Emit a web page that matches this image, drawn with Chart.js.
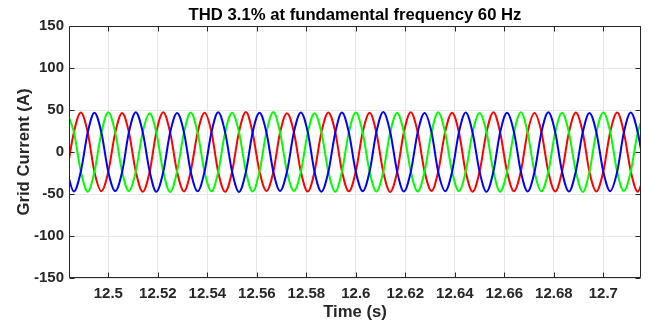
<!DOCTYPE html>
<html>
<head>
<meta charset="utf-8">
<script src="https://cdn.jsdelivr.net/npm/chart.js@4.4.1/dist/chart.umd.min.js"></script>
<style>
  html, body { margin: 0; padding: 0; background: #fff; }
  #wrap { width: 654px; height: 324px; position: relative; }
</style>
</head>
<body>
<div id="wrap"><canvas id="thd-chart"></canvas></div>
<script>
// Chart text
const titleText = 'THD 3.1% at fundamental frequency 60 Hz';
const xTitle = 'Time (s)';
const yTitle = 'Grid Current (A)';

// Tick labels
const xTicks = [12.5, 12.52, 12.54, 12.56, 12.58, 12.6, 12.62, 12.64, 12.66, 12.68, 12.7];
const yTicks = [-150, -100, -50, 0, 50, 100, 150];

// Sample times (s), read at every 60 degrees of the 60 Hz wave
const time = [
  12.4833, 12.4861, 12.4889, 12.4917, 12.4944, 12.4972,
  12.5000, 12.5028, 12.5056, 12.5083, 12.5111, 12.5139,
  12.5167, 12.5194, 12.5222, 12.5250, 12.5278, 12.5306,
  12.5333, 12.5361, 12.5389, 12.5417, 12.5444, 12.5472,
  12.5500, 12.5528, 12.5556, 12.5583, 12.5611, 12.5639,
  12.5667, 12.5694, 12.5722, 12.5750, 12.5778, 12.5806,
  12.5833, 12.5861, 12.5889, 12.5917, 12.5944, 12.5972,
  12.6000, 12.6028, 12.6056, 12.6083, 12.6111, 12.6139,
  12.6167, 12.6194, 12.6222, 12.6250, 12.6278, 12.6306,
  12.6333, 12.6361, 12.6389, 12.6417, 12.6444, 12.6472,
  12.6500, 12.6528, 12.6556, 12.6583, 12.6611, 12.6639,
  12.6667, 12.6694, 12.6722, 12.6750, 12.6778, 12.6806,
  12.6833, 12.6861, 12.6889, 12.6917, 12.6944, 12.6972,
  12.7000, 12.7028, 12.7056, 12.7083, 12.7111, 12.7139,
  12.7167
];

// Phase currents (A)
const phaseA = [
  -23.1, 23.5, 47.0, 23.2, -23.7, -46.6,
  -23.4, 23.0, 46.4, 23.8, -23.1, -47.3,
  -23.8, 23.6, 47.3, 23.1, -23.5, -46.9,
  -23.0, 23.3, 46.7, 23.6, -23.9, -47.4,
  -23.6, 23.8, 47.5, 23.0, -23.2, -46.5,
  -23.2, 23.1, 46.2, 23.5, -23.6, -47.1,
  -23.7, 23.4, 47.1, 23.9, -23.0, -46.8,
  -23.3, 23.7, 46.6, 23.3, -23.8, -47.5,
  -23.9, 23.2, 47.2, 23.7, -23.3, -46.4,
  -23.1, 23.9, 46.8, 23.0, -23.6, -47.2,
  -23.5, 23.3, 47.4, 23.4, -23.1, -46.7,
  -23.0, 23.6, 46.3, 23.8, -23.7, -47.0,
  -23.7, 23.1, 47.0, 23.2, -23.4, -46.9,
  -23.2, 23.8, 46.9, 23.6, -23.0, -47.3,
  -23.5
];
const phaseB = [
  46.5, 23.8, -23.1, -47.2, -23.6, 23.0,
  47.3, 23.2, -23.9, -46.4, -23.3, 23.7,
  46.1, 23.5, -23.4, -47.6, -22.9, 23.4,
  47.0, 22.8, -23.7, -46.8, -23.8, 23.1,
  46.7, 23.9, -23.0, -47.1, -23.2, 23.8,
  47.5, 23.3, -23.6, -46.3, -23.5, 22.9,
  46.2, 23.6, -23.3, -47.4, -23.1, 23.5,
  47.1, 23.0, -23.8, -46.9, -23.7, 23.2,
  46.8, 23.7, -22.9, -47.0, -23.4, 23.6,
  47.4, 23.1, -23.5, -46.6, -23.0, 23.3,
  46.4, 23.8, -23.2, -47.3, -23.9, 23.0,
  47.2, 23.4, -23.7, -46.7, -23.3, 23.7,
  46.6, 23.2, -23.1, -47.5, -23.6, 23.4,
  47.0, 23.9, -23.4, -46.5, -23.2, 23.1,
  46.9
];
const phaseC = [
  -23.4, -47.1, -23.2, 23.6, 46.8, 23.3,
  -23.7, -46.5, -23.5, 23.1, 47.4, 23.8,
  -23.0, -47.3, -23.8, 23.4, 46.3, 23.0,
  -23.5, -46.8, -23.1, 23.7, 47.2, 23.5,
  -23.2, -47.5, -23.6, 23.2, 46.6, 23.2,
  -23.8, -46.4, -23.3, 23.8, 47.0, 23.6,
  -23.1, -47.2, -23.9, 23.0, 46.9, 23.1,
  -23.6, -46.7, -23.0, 23.5, 47.5, 23.7,
  -23.3, -47.0, -23.7, 23.3, 46.4, 23.4,
  -23.9, -46.6, -23.4, 23.9, 47.1, 23.0,
  -23.2, -47.4, -23.2, 23.1, 46.7, 23.8,
  -23.6, -46.9, -23.8, 23.6, 47.3, 23.3,
  -23.0, -47.1, -23.1, 23.4, 46.5, 23.5,
  -23.5, -46.6, -23.6, 23.2, 47.0, 23.6,
  -23.3
];

const ink = '#262626';
const font = '"Liberation Sans", Arial, sans-serif';
Chart.defaults.font.family = font;
Chart.defaults.color = ink;

const toPoints = vals => time.map((t, i) => ({ x: t, y: vals[i] }));

// MATLAB-style box, inward ticks and title
const axesBox = {
  id: 'axesBox',
  afterDatasetsDraw(chart) {
    const { ctx, chartArea: a, scales: { x, y } } = chart;
    const L = Math.round(a.left) + 0.5, R = Math.round(a.right) - 0.5;
    const T = Math.round(a.top) + 0.5, B = Math.round(a.bottom) - 0.5;
    ctx.save();
    ctx.strokeStyle = ink;
    ctx.lineWidth = 1;
    ctx.beginPath();
    ctx.rect(L, T, R - L, B - T);
    xTicks.forEach(v => {
      const px = Math.round(x.getPixelForValue(v)) + 0.5;
      ctx.moveTo(px, B); ctx.lineTo(px, B - 5);
      ctx.moveTo(px, T); ctx.lineTo(px, T + 5);
    });
    yTicks.forEach(v => {
      const py = Math.round(y.getPixelForValue(v)) + 0.5;
      ctx.moveTo(L, py); ctx.lineTo(L + 5, py);
      ctx.moveTo(R, py); ctx.lineTo(R - 5, py);
    });
    ctx.stroke();

    ctx.fillStyle = '#000';
    ctx.font = 'bold 16.7px ' + font;
    ctx.textAlign = 'center';
    ctx.textBaseline = 'middle';
    ctx.fillText(titleText, (a.left + a.right) / 2, 15);
    ctx.restore();
  }
};

const line = (label, vals, color, order) => ({
  label,
  data: toPoints(vals),
  borderColor: color,
  borderWidth: 2,
  pointRadius: 0,
  fill: false,
  cubicInterpolationMode: 'monotone',
  order,
});

new Chart(document.getElementById('thd-chart'), {
  type: 'line',
  data: {
    datasets: [
      line('Phase A', phaseA, '#ff0000', 3),
      line('Phase B', phaseB, '#00ff00', 2),
      line('Phase C', phaseC, '#0000ff', 1),
    ]
  },
  options: {
    responsive: true,
    maintainAspectRatio: false,
    devicePixelRatio: 1,
    animation: false,
    layout: { padding: { left: 0, right: 13, top: 26, bottom: 0 } },
    plugins: {
      legend: { display: false },
      tooltip: { enabled: false },
    },
    scales: {
      x: {
        type: 'linear',
        min: 12.48412,
        max: 12.71523,
        afterBuildTicks: s => { s.ticks = xTicks.map(v => ({ value: v })); },
        afterFit: s => { s.height = 46; },
        grid: { color: '#e6e6e6', drawTicks: false },
        border: { display: false },
        ticks: {
          padding: 7,
          color: ink,
          font: { size: 15, weight: 'bold' },
          callback: v => String(Number(v.toFixed(2))),
        },
        title: {
          display: true,
          text: xTitle,
          color: ink,
          font: { size: 16.7, weight: 'bold' },
          padding: { top: 0, bottom: 2 },
        }
      },
      y: {
        min: -150,
        max: 150,
        afterBuildTicks: s => { s.ticks = yTicks.map(v => ({ value: v })); },
        afterFit: s => { s.width = 69; },
        grid: { color: '#e6e6e6', drawTicks: false },
        border: { display: false },
        ticks: {
          padding: 5,
          color: ink,
          font: { size: 15, weight: 'bold' },
        },
        title: {
          display: true,
          text: yTitle,
          color: ink,
          font: { size: 16.7, weight: 'bold' },
          padding: { top: 14, bottom: 0 },
        }
      }
    }
  },
  plugins: [axesBox]
});
</script>
</body>
</html>
